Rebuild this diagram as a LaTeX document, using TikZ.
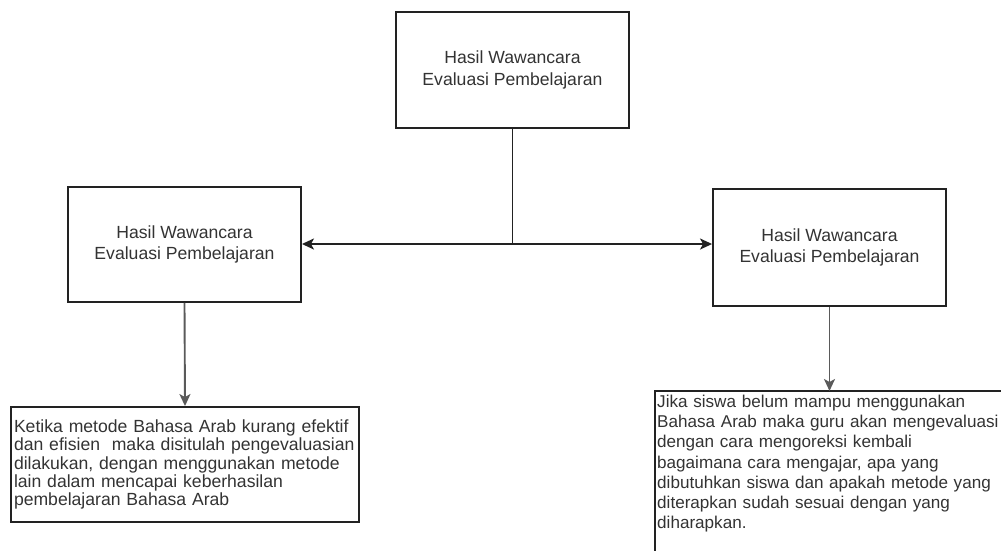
\documentclass[tikz,border=0pt]{standalone}
\usepackage{fontspec}
\setmainfont{Liberation Sans}
\usetikzlibrary{arrows.meta}
\definecolor{ink}{HTML}{333333}
\definecolor{edge}{HTML}{222222}
\definecolor{wire}{HTML}{5A5A5A}
\begin{document}
\begin{tikzpicture}[x=1pt,y=-1pt,
  box/.style={draw=edge,line width=1.9pt,text=ink,align=center,inner sep=0pt,
    minimum width=233pt,font=\fontsize{17.6}{21.7}\selectfont},
  notebox/.style={text=ink,align=left,inner sep=3pt,
    font=\fontsize{17.6}{18.4}\selectfont},
  link/.style={line width=1.9pt,draw=edge},
  tip/.style={-{Stealth[length=12pt,width=11pt,inset=3pt]}}
]
\useasboundingbox (0,0) rectangle (1001,550);
\clip (0,0) rectangle (1001,550);

% boxes
\node[box,minimum height=116pt] (top) at (512.5,70) {Hasil Wawancara\\Evaluasi Pembelajaran};
\node[box,minimum height=115pt] (left) at (184.5,244.5) {Hasil Wawancara\\Evaluasi Pembelajaran};
\node[box,minimum height=117pt] (right) at (829.5,247.5) {Hasil Wawancara\\Evaluasi Pembelajaran};

\node[notebox,draw=edge,line width=1.9pt,minimum width=348pt,minimum height=115pt,text width=342pt] (leftnote) at (185,464.5)
  {Ketika metode Bahasa Arab kurang efektif\\dan efisien\ \ maka disitulah pengevaluasian\\dilakukan, dengan menggunakan metode\\lain dalam mencapai keberhasilan\\pembelajaran Bahasa Arab};

% the right note runs past the page edge, so its frame is drawn separately
\node[notebox,anchor=north west,text width=394pt,inner xsep=2pt,inner ysep=3.5pt,
  font=\fontsize{17.1}{20.3}\selectfont] (rightnote) at (655,391)
  {Jika siswa belum mampu menggunakan\\Bahasa Arab maka guru akan mengevaluasi\\dengan cara mengoreksi kembali\\bagaimana cara mengajar, apa yang\\dibutuhkan siswa dan apakah metode yang\\diterapkan sudah sesuai dengan yang\\diharapkan.};
\draw[link] (rightnote.north west) rectangle ++(420,220);

% connectors
\coordinate (split) at (512.5,244);
\draw[link] (top.south) -- (split);
\draw[link,tip] (split) -- (left.east |- split);
\draw[link,tip] (split) -- (right.west |- split);
\draw[link,draw=wire,tip] (left.south) -- (leftnote.north);
\draw[link,draw=wire,tip] (right.south) -- (right.south |- rightnote.north);
\end{tikzpicture}
\end{document}
